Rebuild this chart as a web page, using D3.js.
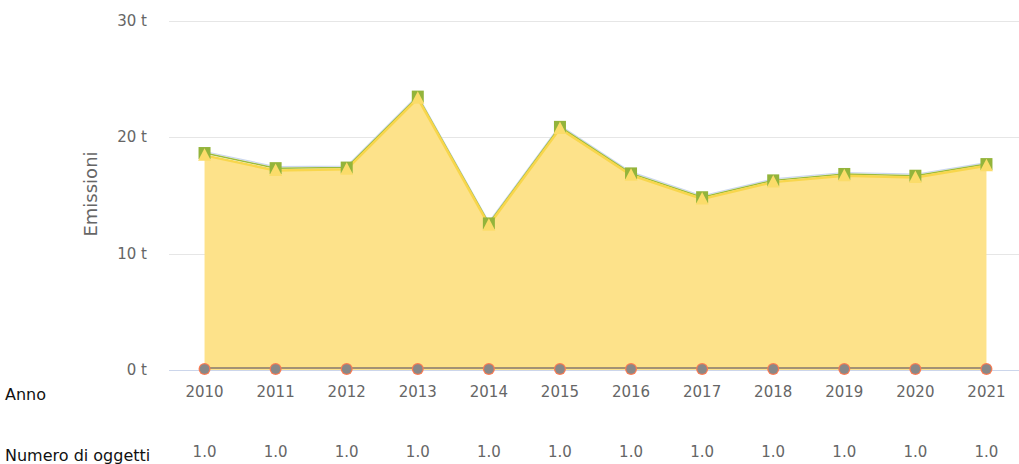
<!DOCTYPE html>
<html>
<head>
<meta charset="utf-8">
<script src="https://cdn.jsdelivr.net/npm/d3@7"></script>
<style>
  body { margin: 0; background: #fff; }
  svg { display: block; font-family: "DejaVu Sans", sans-serif; }
</style>
</head>
<body>
<svg id="chart"></svg>
<script>
// data
const years = ['2010', '2011', '2012', '2013', '2014', '2015', '2016', '2017', '2018', '2019', '2020', '2021'];
const emissioni = [18.45, 17.15, 17.25, 23.35, 12.45, 20.75, 16.75, 14.7, 16.15, 16.7, 16.55, 17.55];
const altro = [0.2, 0.2, 0.15, 0.15, 0.15, 0.15, 0.15, 0.15, 0.15, 0.15, 0.15, 0.15];
const zero = [0, 0, 0, 0, 0, 0, 0, 0, 0, 0, 0, 0];
const oggetti = ['1.0', '1.0', '1.0', '1.0', '1.0', '1.0', '1.0', '1.0', '1.0', '1.0', '1.0', '1.0'];
const yTicks = [0, 10, 20, 30];

const width = 1019, height = 464;
const margin = { top: 21, right: -3, bottom: 94, left: 169 };

const svg = d3.select('#chart').attr('width', width).attr('height', height);

const x = d3.scaleBand().domain(years).range([margin.left, width - margin.right]);
const cx = d => x(d) + x.bandwidth() / 2;
const y = d3.scaleLinear().domain([0, 30]).range([height - margin.bottom, margin.top]);

// gridlines
svg.append('g')
  .selectAll('line')
  .data(yTicks.filter(t => t > 0))
  .join('line')
  .attr('x1', margin.left).attr('x2', width)
  .attr('y1', d => Math.round(y(d)) + 0.5).attr('y2', d => Math.round(y(d)) + 0.5)
  .attr('stroke', '#e6e6e6');

// y tick labels
svg.append('g')
  .selectAll('text')
  .data(yTicks)
  .join('text')
  .attr('x', 147)
  .attr('y', d => y(d) + 5)
  .attr('text-anchor', 'end')
  .attr('fill', '#666')
  .style('font-size', '15px')
  .text(d => `${d} t`);

// y axis title
svg.append('text')
  .attr('transform', 'translate(97,194) rotate(-90)')
  .attr('text-anchor', 'middle')
  .attr('fill', '#666')
  .style('font-size', '18px')
  .text('Emissioni');

const rows = years.map((yr, i) => ({
  yr, main: emissioni[i], top: emissioni[i] + altro[i], zero: zero[i]
}));

// yellow area
svg.append('path')
  .datum(rows)
  .attr('d', d3.area().x(d => cx(d.yr)).y0(y(0)).y1(d => y(d.main)))
  .attr('fill', '#fde28a');

// thin blue and green edges of the stacked series
svg.append('path')
  .datum(rows)
  .attr('d', d3.line().x(d => cx(d.yr)).y(d => y(d.top) - 1.5))
  .attr('fill', 'none').attr('stroke', '#cbd7ee').attr('stroke-width', 1.2);
svg.append('path')
  .datum(rows)
  .attr('d', d3.line().x(d => cx(d.yr)).y(d => y(d.top)))
  .attr('fill', 'none').attr('stroke', '#9cbb3c').attr('stroke-width', 1.5);
svg.append('path')
  .datum(rows)
  .attr('d', d3.line().x(d => cx(d.yr)).y(d => y(d.main)))
  .attr('fill', 'none').attr('stroke', '#f8d64c').attr('stroke-width', 2.5);

// zero series line
svg.append('path')
  .datum(rows)
  .attr('d', d3.line().x(d => cx(d.yr)).y(d => y(d.zero) - 2))
  .attr('fill', 'none').attr('stroke', '#a39274').attr('stroke-width', 2);

// x axis line
svg.append('line')
  .attr('x1', margin.left).attr('x2', width)
  .attr('y1', y(0) + 0.5).attr('y2', y(0) + 0.5)
  .attr('stroke', '#ccd6eb');

// green square markers
svg.append('g')
  .selectAll('rect')
  .data(rows)
  .join('rect')
  .attr('x', d => cx(d.yr) - 6)
  .attr('y', d => y(d.top) - 6)
  .attr('width', 12).attr('height', 12)
  .attr('fill', '#93b43b');

// yellow triangle markers
svg.append('g')
  .selectAll('path')
  .data(rows)
  .join('path')
  .attr('d', d => {
    const px = cx(d.yr), py = y(d.main);
    return `M${px},${py - 7}L${px + 6.5},${py + 5.5}L${px - 6.5},${py + 5.5}Z`;
  })
  .attr('fill', '#fbdc6a');

// zero circles
const circ = svg.append('g').selectAll('g').data(rows).join('g');
circ.append('circle')
  .attr('cx', d => cx(d.yr)).attr('cy', d => y(d.zero) - 1)
  .attr('r', 6).attr('fill', '#fb7b52');
circ.append('circle')
  .attr('cx', d => cx(d.yr)).attr('cy', d => y(d.zero) - 1)
  .attr('r', 4.8).attr('fill', '#888');

// x labels (Anno)
svg.append('g')
  .selectAll('text')
  .data(years)
  .join('text')
  .attr('x', d => cx(d))
  .attr('y', 397)
  .attr('text-anchor', 'middle')
  .attr('fill', '#666')
  .style('font-size', '15px')
  .text(d => d);

// Numero di oggetti row
svg.append('g')
  .selectAll('text')
  .data(years)
  .join('text')
  .attr('x', d => cx(d))
  .attr('y', 457)
  .attr('text-anchor', 'middle')
  .attr('fill', '#666')
  .style('font-size', '15px')
  .text((d, i) => oggetti[i]);

svg.append('text')
  .attr('x', 5).attr('y', 400)
  .attr('fill', '#111')
  .style('font-size', '16px')
  .text('Anno');
svg.append('text')
  .attr('x', 5).attr('y', 461)
  .attr('fill', '#111')
  .style('font-size', '16px')
  .text('Numero di oggetti');
</script>
</body>
</html>
